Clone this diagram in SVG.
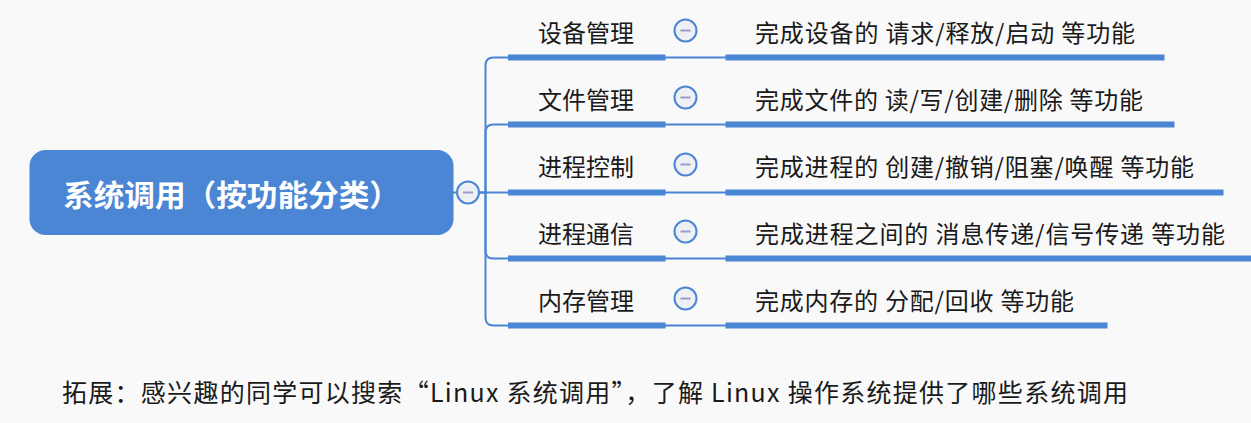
<svg xmlns="http://www.w3.org/2000/svg" width="1251" height="423" viewBox="0 0 1251 423">
<style>
.bg{fill:#f9f9f9}
.root{fill:#4a86d4}
.rootText{font-family:"Noto Sans CJK SC","Noto Sans",sans-serif;font-size:30px;font-weight:bold;fill:#ffffff}
.topic{font-family:"Noto Sans CJK SC","Noto Sans",sans-serif;font-size:24px;fill:#1a1a1a}
.detail{font-family:"Noto Sans CJK SC","Noto Sans",sans-serif;font-size:24px;fill:#1a1a1a}
.foot{font-family:"Noto Sans CJK SC","Noto Sans",sans-serif;font-size:25px;fill:#1a1a1a}
.bar{fill:#4a86d4}
.conn{fill:none;stroke:#4a86d4;stroke-width:2}
.tog{fill:#eef0f5;stroke:#4a86d4;stroke-width:2}
.minus{stroke:#9a9cc8;stroke-width:2}
</style>
<defs>
<g id="toggle"><circle cx="0" cy="0" r="11" class="tog"/><line x1="-5" y1="0" x2="5" y2="0" class="minus"/></g>
</defs>
<rect class="bg" x="0" y="0" width="1251" height="423"/>

<g id="connectors">
<line class="conn" x1="453" y1="192.5" x2="458" y2="192.5"/>
<path class="conn" d="M479 192.5 H485.5 V65.5 Q485.5 57.5 493.5 57.5 H508"/>
<path class="conn" d="M485.5 192.5 V132.5 Q485.5 124.5 493.5 124.5 H508"/>
<path class="conn" d="M479 192.5 H508"/>
<path class="conn" d="M485.5 192.5 V250.5 Q485.5 258.5 493.5 258.5 H508"/>
<path class="conn" d="M485.5 192.5 V317.5 Q485.5 325.5 493.5 325.5 H508"/>
<line class="conn" x1="665" y1="57.5" x2="726" y2="57.5"/>
<line class="conn" x1="665" y1="124.5" x2="726" y2="124.5"/>
<line class="conn" x1="665" y1="192.5" x2="726" y2="192.5"/>
<line class="conn" x1="665" y1="258.5" x2="726" y2="258.5"/>
<line class="conn" x1="665" y1="325.5" x2="726" y2="325.5"/>
</g>

<g id="root">
<rect class="root" x="29.5" y="150" width="424" height="85" rx="16"/>
<text class="rootText" x="63" y="206" textLength="337" lengthAdjust="spacingAndGlyphs">系统调用（按功能分类）</text>
<use href="#toggle" x="468" y="192.5"/>
</g>

<g id="topic-1">
<text class="topic" x="538" y="42">设备管理</text>
<rect class="bar" x="508" y="54.5" width="157.5" height="6"/>
<use href="#toggle" x="685.5" y="30.5"/>
</g>
<g id="detail-1">
<text class="detail" x="755" y="42" textLength="380" lengthAdjust="spacing">完成设备的 请求/释放/启动 等功能</text>
<rect class="bar" x="725.5" y="54.5" width="439" height="6"/>
</g>

<g id="topic-2">
<text class="topic" x="538" y="109">文件管理</text>
<rect class="bar" x="508" y="121.5" width="157.5" height="6"/>
<use href="#toggle" x="685.5" y="97.5"/>
</g>
<g id="detail-2">
<text class="detail" x="755" y="109" textLength="388" lengthAdjust="spacing">完成文件的 读/写/创建/删除 等功能</text>
<rect class="bar" x="725.5" y="121.5" width="449" height="6"/>
</g>

<g id="topic-3">
<text class="topic" x="538" y="176">进程控制</text>
<rect class="bar" x="508" y="189.5" width="157.5" height="6"/>
<use href="#toggle" x="685.5" y="164.5"/>
</g>
<g id="detail-3">
<text class="detail" x="755" y="176" textLength="439" lengthAdjust="spacing">完成进程的 创建/撤销/阻塞/唤醒 等功能</text>
<rect class="bar" x="725.5" y="189.5" width="498" height="6"/>
</g>

<g id="topic-4">
<text class="topic" x="538" y="243">进程通信</text>
<rect class="bar" x="508" y="255.5" width="157.5" height="6"/>
<use href="#toggle" x="685.5" y="231.5"/>
</g>
<g id="detail-4">
<text class="detail" x="755" y="243" textLength="470" lengthAdjust="spacing">完成进程之间的 消息传递/信号传递 等功能</text>
<rect class="bar" x="725.5" y="255.5" width="526" height="6"/>
</g>

<g id="topic-5">
<text class="topic" x="538" y="310">内存管理</text>
<rect class="bar" x="508" y="322.5" width="157.5" height="6"/>
<use href="#toggle" x="685.5" y="298.5"/>
</g>
<g id="detail-5">
<text class="detail" x="755" y="310" textLength="319" lengthAdjust="spacing">完成内存的 分配/回收 等功能</text>
<rect class="bar" x="725.5" y="322.5" width="382" height="6"/>
</g>

<g id="footer">
<text class="foot" x="62" y="402" textLength="1066" lengthAdjust="spacing">拓展：感兴趣的同学可以搜索“Linux 系统调用”，了解 Linux 操作系统提供了哪些系统调用</text>
</g>
</svg>
